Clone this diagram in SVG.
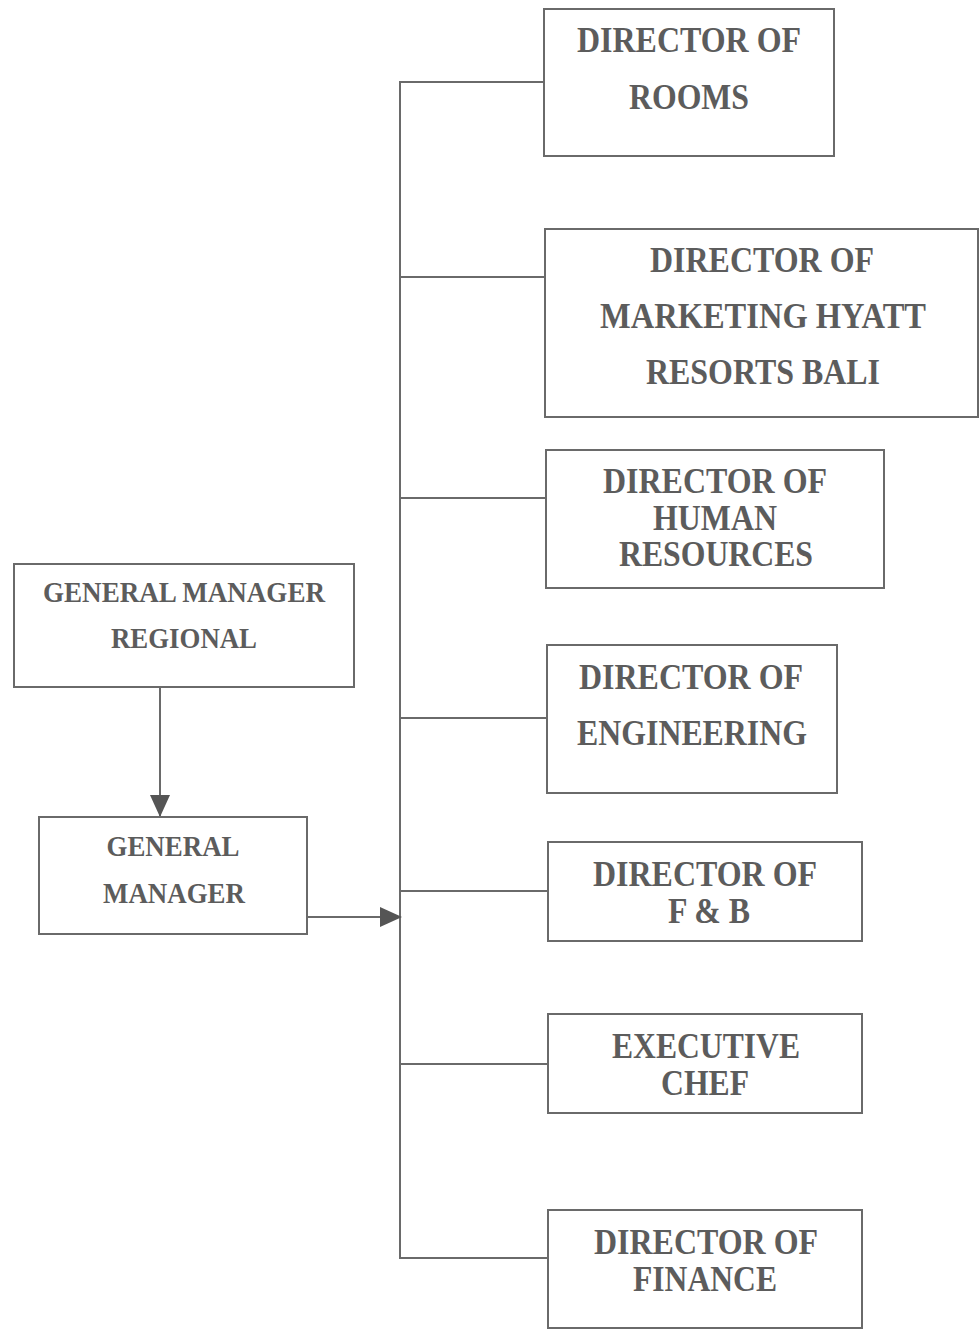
<svg xmlns="http://www.w3.org/2000/svg" width="979" height="1330" viewBox="0 0 979 1330">
<defs>
<style>
.box{fill:#fff;stroke:#6a6a6a;stroke-width:2}
.t{font-family:"Liberation Serif","Times New Roman",serif;font-weight:bold;font-size:35px;fill:#5c5c5c;text-anchor:middle;lengthAdjust:spacingAndGlyphs}
.g{font-size:29px}
.ln{fill:none;stroke:#6a6a6a;stroke-width:2}
</style>
<marker id="ah" markerWidth="12" markerHeight="12" refX="11" refY="6" orient="auto" markerUnits="userSpaceOnUse" viewBox="0 0 12 12">
<path d="M0,0 L12,6 L0,12 Z" fill="#555"/>
</marker>
<marker id="ahl" markerWidth="22" markerHeight="20" refX="21" refY="10" orient="auto" markerUnits="userSpaceOnUse" viewBox="0 0 22 20">
<path d="M0,0 L22,10 L0,20 Z" fill="#555"/>
</marker>
</defs>
<rect width="979" height="1330" fill="#fff"/>
<g id="connectors">
<path class="ln" d="M544,82 H400 V1258 H548"/>
<path class="ln" d="M400,277 H545"/>
<path class="ln" d="M401,498 H546"/>
<path class="ln" d="M401,718 H547"/>
<path class="ln" d="M401,891 H548"/>
<path class="ln" d="M401,1064 H548"/>
<path class="ln" d="M160,687 V816" marker-end="url(#ahl)"/>
<path class="ln" d="M307,917 H401" marker-end="url(#ahl)"/>
</g>
<g id="rooms">
<rect class="box" x="544" y="9" width="290" height="147"/>
<text class="t" x="689" y="52" textLength="224" lengthAdjust="spacingAndGlyphs">DIRECTOR OF</text>
<text class="t" x="689" y="109" textLength="120" lengthAdjust="spacingAndGlyphs">ROOMS</text>
</g>
<g id="marketing">
<rect class="box" x="545" y="229" width="433" height="188"/>
<text class="t" x="762" y="272" textLength="224" lengthAdjust="spacingAndGlyphs">DIRECTOR OF</text>
<text class="t" x="763" y="328" textLength="326" lengthAdjust="spacingAndGlyphs">MARKETING HYATT</text>
<text class="t" x="763" y="384" textLength="234" lengthAdjust="spacingAndGlyphs">RESORTS BALI</text>
</g>
<g id="hr">
<rect class="box" x="546" y="450" width="338" height="138"/>
<text class="t" x="715" y="493" textLength="224" lengthAdjust="spacingAndGlyphs">DIRECTOR OF</text>
<text class="t" x="715" y="530" textLength="124" lengthAdjust="spacingAndGlyphs">HUMAN</text>
<text class="t" x="716" y="566" textLength="194" lengthAdjust="spacingAndGlyphs">RESOURCES</text>
</g>
<g id="engineering">
<rect class="box" x="547" y="645" width="290" height="148"/>
<text class="t" x="691" y="689" textLength="224" lengthAdjust="spacingAndGlyphs">DIRECTOR OF</text>
<text class="t" x="692" y="745" textLength="230" lengthAdjust="spacingAndGlyphs">ENGINEERING</text>
</g>
<g id="fb">
<rect class="box" x="548" y="842" width="314" height="99"/>
<text class="t" x="705" y="886" textLength="224" lengthAdjust="spacingAndGlyphs">DIRECTOR OF</text>
<text class="t" x="709" y="923" textLength="82" lengthAdjust="spacingAndGlyphs">F &amp; B</text>
</g>
<g id="chef">
<rect class="box" x="548" y="1014" width="314" height="99"/>
<text class="t" x="706" y="1058" textLength="188" lengthAdjust="spacingAndGlyphs">EXECUTIVE</text>
<text class="t" x="705" y="1095" textLength="88" lengthAdjust="spacingAndGlyphs">CHEF</text>
</g>
<g id="finance">
<rect class="box" x="548" y="1210" width="314" height="118"/>
<text class="t" x="706" y="1254" textLength="224" lengthAdjust="spacingAndGlyphs">DIRECTOR OF</text>
<text class="t" x="705" y="1291" textLength="144" lengthAdjust="spacingAndGlyphs">FINANCE</text>
</g>
<g id="gm-regional">
<rect class="box" x="14" y="564" width="340" height="123"/>
<text class="t g" x="184" y="602" textLength="282" lengthAdjust="spacingAndGlyphs">GENERAL MANAGER</text>
<text class="t g" x="184" y="648" textLength="146" lengthAdjust="spacingAndGlyphs">REGIONAL</text>
</g>
<g id="gm">
<rect class="box" x="39" y="817" width="268" height="117"/>
<text class="t g" x="173" y="856" textLength="133" lengthAdjust="spacingAndGlyphs">GENERAL</text>
<text class="t g" x="174" y="903" textLength="142" lengthAdjust="spacingAndGlyphs">MANAGER</text>
</g>
</svg>
